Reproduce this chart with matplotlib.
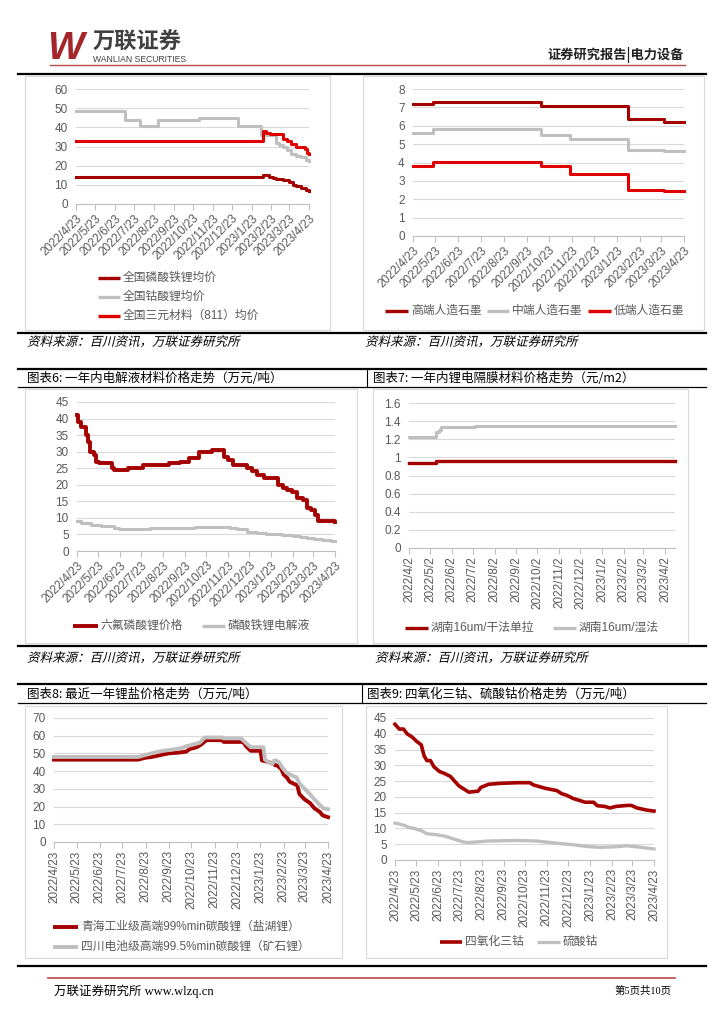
import matplotlib
matplotlib.use("Agg")
import matplotlib.pyplot as plt
import numpy as np
import pandas as pd
from matplotlib.font_manager import FontProperties
from matplotlib.lines import Line2D
from matplotlib.patches import PathPatch, Rectangle
from matplotlib.textpath import TextPath
from matplotlib.transforms import Affine2D

plt.rcParams["font.family"] = ["Liberation Sans", "Noto Sans CJK SC", "DejaVu Sans"]

W, H = 724, 1024
DARK_RED = "#A50000"
RED = "#E00000"
GRAY = "#BFBFBF"
TICK_COLOR = "#595959"
GRID_COLOR = "#D9D9D9"
SOURCE = "资料来源：百川资讯，万联证券研究所"

# --- chart 1: cathode materials, days since 2022-04-23 ---
lfp_days = [0, 293, 303, 308, 314, 324, 333, 340, 345, 353, 360, 365]
lfp_vals = [14.3, 15, 14, 13.5, 13, 12.5, 11.5, 10, 9.5, 8.5, 7.5, 7]
lco_days = [0, 77, 101, 129, 192, 254, 290, 314, 318, 324, 330, 337, 345, 353, 361, 365]
lco_vals = [48.5, 44, 40.5, 44, 45, 40.5, 36, 32, 31, 30, 28, 26, 25, 24.5, 23, 22.5]
ncm_days = [0, 293, 298, 304, 324, 330, 337, 345, 353, 358, 362, 365]
ncm_vals = [33, 38, 37, 36.5, 34, 33, 31.5, 30, 29.5, 28.5, 26.5, 26]

# --- chart 2: graphite ---
gr_days = [0, 27, 173, 211, 290, 338, 365]
gr_high = [7.2, 7.3, 7.1, 7.1, 6.35, 6.2, 6.2]
gr_mid = [5.6, 5.8, 5.5, 5.3, 4.7, 4.6, 4.6]
gr_low = [3.8, 4.05, 3.8, 3.35, 2.5, 2.45, 2.45]

# --- chart 3: electrolyte ---
lipf6_days = [0, 2, 5, 13, 16, 19, 24, 27, 31, 49, 52, 72, 93, 130, 146, 158, 172, 191,
              208, 213, 221, 240, 247, 255, 264, 284, 292, 297, 304, 311, 320, 326, 331,
              337, 341, 346, 365]
lipf6_vals = [41, 39, 37.5, 35, 33, 30, 29, 27, 26.5, 25, 24.5, 25.2, 26, 26.5, 27, 28, 30,
              30.5, 28.5, 27.5, 26, 25, 24.2, 23, 22, 19.8, 19, 18.5, 17.8, 16, 15.3, 13,
              12.5, 11, 9.2, 9, 8.8]
elec_days = [0, 6, 20, 34, 53, 59, 103, 167, 216, 226, 240, 255, 268, 290, 306, 316, 325,
             335, 346, 360, 365]
elec_vals = [9, 8.5, 8, 7.5, 6.8, 6.5, 6.8, 7.1, 6.9, 6.6, 5.8, 5.4, 5.1, 4.8, 4.5, 4.2,
             3.9, 3.6, 3.3, 3.1, 3.0]

# --- chart 4: separator, days since 2022-04-02 ---
dry_days = [0, 38, 379]
dry_vals = [0.935, 0.955, 0.955]
wet_days = [0, 38, 43, 46, 94, 379]
wet_vals = [1.225, 1.28, 1.3, 1.33, 1.345, 1.345]

# --- chart 5: lithium carbonate ---
qh_days = [0, 112, 121, 130, 141, 152, 167, 176, 181, 190, 196, 203, 224, 226, 252, 256,
           262, 275, 277, 283, 290, 294, 298, 303, 306, 310, 314, 319, 324, 327, 334, 341,
           347, 354, 358, 365]
qh_vals = [46.5, 46.5, 47.5, 48, 49, 50, 50.5, 51, 52.5, 53.5, 55, 57.5, 57.5, 56.5, 56.5,
           54, 51.5, 51.5, 46, 45.5, 44.5, 43.5, 43, 41, 38, 36.5, 34, 33, 32, 27, 24, 22,
           19, 17, 15, 14]
sc_days = [0, 112, 125, 134, 145, 156, 170, 176, 185, 194, 201, 224, 226, 249, 253, 258,
           262, 279, 281, 286, 291, 293, 296, 300, 304, 310, 315, 320, 323, 327, 334, 341,
           347, 354, 359, 365]
sc_vals = [48, 48, 49.5, 50.5, 51.5, 52, 53, 54, 55, 56, 59, 59, 58.5, 58.5, 57, 55, 53.5,
           53.5, 46.5, 45, 44, 46, 46, 45, 42, 39, 38, 37, 36.5, 33, 30, 27, 24, 21, 19,
           18.5]

# --- chart 6: cobalt ---
co3o4_days = [0, 6, 12, 17, 24, 31, 37, 41, 45, 50, 55, 63, 69, 78, 84, 90, 97, 104, 117,
              121, 132, 148, 174, 190, 195, 212, 228, 235, 242, 251, 261, 268, 280, 285,
              295, 303, 312, 328, 333, 341, 355, 365]
co3o4_vals = [43, 41.5, 41.5, 40, 39, 37.5, 36.5, 33, 31.5, 31.5, 29.5, 28, 27.5, 26.5, 25,
              23.5, 22.5, 21.5, 21.8, 23, 24, 24.3, 24.5, 24.5, 23.8, 22.7, 22, 21, 20.5,
              19.5, 18.8, 18.3, 18.3, 17.2, 17, 16.5, 17, 17.3, 17.3, 16.5, 15.8, 15.5]
coso4_days = [0, 13, 20, 27, 38, 45, 59, 71, 85, 95, 102, 120, 130, 172, 200, 221, 233, 244,
              256, 270, 289, 312, 326, 340, 354, 365]
coso4_vals = [11.7, 11, 10.3, 10, 9.2, 8.3, 8, 7.5, 6.5, 5.8, 5.5, 5.8, 6, 6.2, 6, 5.5, 5.2,
              5, 4.7, 4.3, 4, 4.2, 4.5, 4.2, 3.8, 3.5]

fig = plt.figure(figsize=(W / 100, H / 100), dpi=100)


def fx(x):
    return x / W


def fy(y):
    return 1 - y / H


def px_axes(x0, y0, x1, y1):
    return fig.add_axes([fx(x0), fy(y1), (x1 - x0) / W, (y1 - y0) / H])


def hline(y, x0, x1, lw=1.6, color="black"):
    fig.add_artist(Line2D([fx(x0), fx(x1)], [fy(y), fy(y)], transform=fig.transFigure,
                          color=color, lw=lw))


def vline(x, y0, y1, lw=0.8, color="black"):
    fig.add_artist(Line2D([fx(x), fx(x)], [fy(y0), fy(y1)], transform=fig.transFigure,
                          color=color, lw=lw))


def box(x0, y0, x1, y1):
    fig.add_artist(Rectangle((fx(x0), fy(y1)), (x1 - x0) / W, (y1 - y0) / H,
                             transform=fig.transFigure, fill=False, ec=GRID_COLOR, lw=0.8))


def ftext(x, y, s, **kw):
    kw.setdefault("va", "center")
    fig.text(fx(x), fy(y), s, **kw)


def italic_text(x, y, s, size_px=12.5, color="black"):
    """CJK fonts here have no italic, so slant the glyph outlines by hand."""
    path = TextPath((0, 0), s, size=size_px, prop=FontProperties(family="Noto Sans CJK SC"))
    tr = Affine2D().skew_deg(14, 0).translate(x, H - (y + 0.38 * size_px))
    fig.add_artist(PathPatch(path, transform=tr, fc=color, ec="none"))


def legend_item(x0, x1, y, color, label, lw=2.4):
    fig.add_artist(Line2D([fx(x0), fx(x1)], [fy(y), fy(y)], transform=fig.transFigure,
                          color=color, lw=lw, solid_capstyle="butt"))
    ftext(x1 + 3, y, label, fontsize=8.5, color=TICK_COLOR)


def style_axes(ax, start, xmax, ymax, ystep, rot):
    dates = pd.date_range(start, periods=13, freq=pd.DateOffset(months=1))
    pos = [(d - pd.Timestamp(start)).days for d in dates]
    labels = [f"{d.year}/{d.month}/{d.day}" for d in dates]
    ax.set_xlim(0, xmax)
    ax.set_ylim(0, ymax)
    yt = np.arange(0, ymax + ystep / 2, ystep)
    ax.set_yticks(yt)
    ax.set_yticklabels([f"{round(v, 2):g}" for v in yt])
    ax.set_xticks(pos)
    if rot == 45:
        ax.set_xticklabels(labels, rotation=45, ha="right", rotation_mode="anchor")
    else:
        ax.set_xticklabels(labels, rotation=90, ha="right", va="center",
                           rotation_mode="anchor")
    for s in ("top", "right", "left"):
        ax.spines[s].set_visible(False)
    ax.spines["bottom"].set_color(GRAY)
    ax.spines["bottom"].set_linewidth(0.8)
    ax.grid(axis="y", color=GRID_COLOR, lw=0.8)
    ax.set_axisbelow(True)
    ax.tick_params(axis="y", length=0, pad=6, labelsize=8.5, labelcolor=TICK_COLOR)
    ax.tick_params(axis="x", length=4, color=GRAY, width=0.8, pad=2, labelsize=8.5,
                   labelcolor=TICK_COLOR)
    ax.patch.set_alpha(0)


def series(ax, days, vals, color, lw, stepped=True, z=2):
    ax.plot(days, vals, drawstyle="steps-post" if stepped else "default", color=color,
            lw=lw, zorder=z, solid_joinstyle="round", clip_on=False)


# --- header ---
ftext(47, 49, "W", fontsize=28, fontweight="bold", fontstyle="italic", color="#A3262A")
ftext(93, 42, "万联证券", fontsize=16, fontweight="bold", color="#404040",
      family=["Noto Sans CJK SC"])
ftext(93, 60, "WANLIAN SECURITIES", fontsize=6.2, color="#404040")
ftext(684, 55, "证券研究报告|电力设备", fontsize=9.5, fontweight="bold", ha="right",
      color="#222222", family=["Noto Sans CJK SC"])
hline(64.5, 50, 685, lw=1.0, color="#B94A48")

# --- table lines ---
for y in (74, 333, 369, 646, 684, 966):
    hline(y, 18, 706)
for y in (387, 703):
    hline(y, 18, 706, lw=0.9)
vline(367, 369, 387)
vline(362, 684, 703)

# chart frames
box(25, 76, 330, 330)
box(363, 76, 704, 330)
box(25, 389, 357, 643)
box(373, 389, 688, 643)
box(25, 706, 342, 958)
box(366, 706, 667, 958)

# titles and sources
title_kw = dict(fontsize=9, color="black", family=["Noto Sans CJK SC", "DejaVu Sans"])
ftext(27, 378, "图表6: 一年内电解液材料价格走势（万元/吨）", **title_kw)
ftext(373, 378, "图表7: 一年内锂电隔膜材料价格走势（元/m2）", **title_kw)
ftext(27, 694, "图表8: 最近一年锂盐价格走势（万元/吨）", **title_kw)
ftext(367, 694, "图表9: 四氧化三钴、硫酸钴价格走势（万元/吨）", **title_kw)
italic_text(27, 341, SOURCE)
italic_text(365, 341, SOURCE)
italic_text(27, 657, SOURCE)
italic_text(375, 657, SOURCE)

# --- chart 1 ---
ax1 = px_axes(76, 89, 309, 204)
series(ax1, lfp_days, lfp_vals, DARK_RED, 2.2)
series(ax1, lco_days, lco_vals, GRAY, 2.2)
series(ax1, ncm_days, ncm_vals, RED, 2.2, z=3)
style_axes(ax1, "2022-04-23", 365, 60, 10, 45)
legend_item(98, 120, 278, DARK_RED, "全国磷酸铁锂均价")
legend_item(98, 120, 297, GRAY, "全国钴酸锂均价")
legend_item(98, 120, 316, RED, "全国三元材料（811）均价")

# --- chart 2 ---
ax2 = px_axes(413, 89, 684, 236)
series(ax2, gr_days, gr_high, DARK_RED, 2.2)
series(ax2, gr_days, gr_mid, GRAY, 2.2)
series(ax2, gr_days, gr_low, RED, 2.2)
style_axes(ax2, "2022-04-23", 365, 8, 1, 45)
legend_item(385, 408, 311, DARK_RED, "高端人造石墨")
legend_item(487, 509, 311, GRAY, "中端人造石墨")
legend_item(588, 611, 311, RED, "低端人造石墨")

# --- chart 3 ---
ax3 = px_axes(77, 402, 335, 551)
series(ax3, elec_days, elec_vals, GRAY, 2.2)
series(ax3, lipf6_days, lipf6_vals, DARK_RED, 2.8)
style_axes(ax3, "2022-04-23", 365, 45, 5, 45)
legend_item(73, 98, 626, DARK_RED, "六氟磷酸锂价格", lw=2.8)
legend_item(202, 225, 626, GRAY, "磷酸铁锂电解液", lw=2.4)

# --- chart 4 ---
ax4 = px_axes(409, 403, 675, 548)
series(ax4, wet_days, wet_vals, GRAY, 2.2)
series(ax4, dry_days, dry_vals, DARK_RED, 2.4)
style_axes(ax4, "2022-04-02", 379, 1.6, 0.2, 90)
legend_item(405, 428, 628, DARK_RED, "湖南16um/干法单拉")
legend_item(553, 576, 628, GRAY, "湖南16um/湿法")

# --- chart 5 ---
ax5 = px_axes(54, 718, 328, 842)
series(ax5, qh_days, qh_vals, DARK_RED, 2.8, stepped=False)
series(ax5, sc_days, sc_vals, GRAY, 2.8, stepped=False)
style_axes(ax5, "2022-04-23", 365, 70, 10, 90)
legend_item(53, 78, 927, DARK_RED, "青海工业级高端99%min碳酸锂（盐湖锂）", lw=2.8)
legend_item(53, 78, 947, GRAY, "四川电池级高端99.5%min碳酸锂（矿石锂）", lw=2.8)

# --- chart 6 ---
ax6 = px_axes(395, 718, 654, 860)
series(ax6, coso4_days, coso4_vals, GRAY, 2.4, stepped=False)
series(ax6, co3o4_days, co3o4_vals, DARK_RED, 2.6, stepped=False)
style_axes(ax6, "2022-04-23", 365, 45, 5, 90)
legend_item(440, 462, 942, DARK_RED, "四氧化三钴", lw=2.6)
legend_item(537, 560, 942, GRAY, "硫酸钴", lw=2.4)

# --- footer ---
hline(978, 48, 675, lw=1.2, color="#B94A48")
ftext(54, 991, "万联证券研究所 www.wlzq.cn", fontsize=9, color="black",
      family=["Liberation Serif", "Noto Sans CJK SC"])
ftext(672, 991, "第5页共10页", fontsize=7.5, color="black", ha="right",
      family=["Liberation Serif", "Noto Sans CJK SC"])

fig.savefig("out.png", dpi=100)
